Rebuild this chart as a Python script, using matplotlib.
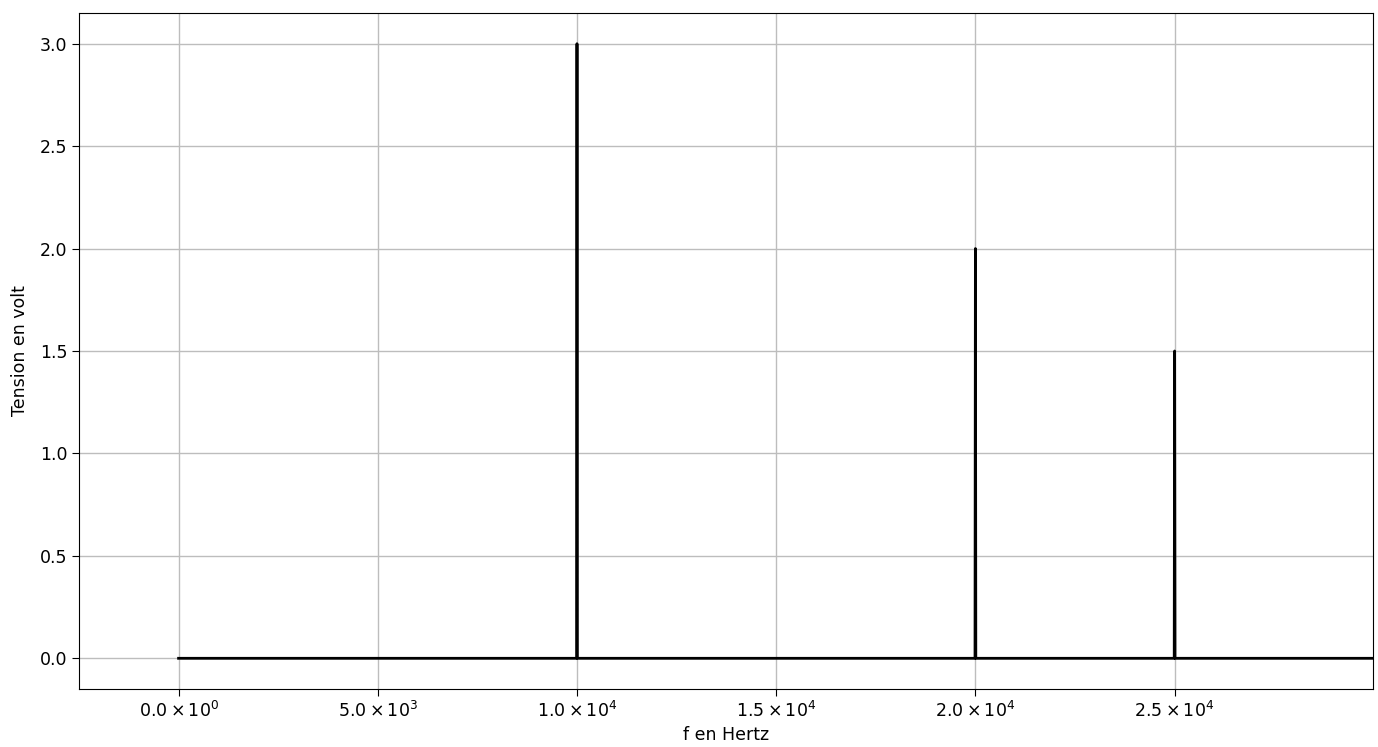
import matplotlib
matplotlib.use("Agg")
import matplotlib.pyplot as plt
from matplotlib.ticker import FuncFormatter
import numpy as np

# spectral lines (Hz, V)
freqs = [1.0e4, 2.0e4, 2.5e4]
amps = [3.0, 2.0, 1.5]
f_max = 3.0e4

# build the spectrum trace: flat at zero with a spike at each line
x = [0.0]
y = [0.0]
for f, a in zip(freqs, amps):
    x += [f - 10, f, f + 10]
    y += [0.0, a, 0.0]
x.append(f_max)
y.append(0.0)


def sci(v, pos):
    if v == 0:
        return r"$0.0\times10^{0}$"
    e = int(np.floor(np.log10(abs(v))))
    m = v / 10**e
    return r"$%.1f\times10^{%d}$" % (m, e)


fig = plt.figure(figsize=(13.78, 7.47), dpi=100)
ax = fig.add_axes([0.0573, 0.0776, 0.9391, 0.905])
ax.plot(x, y, color="black", linewidth=2)
ax.set_xlim(-2500, 29980)
ax.xaxis.set_major_formatter(FuncFormatter(sci))
ax.grid(True, color="#bdbdbd", linewidth=1.0)
ax.tick_params(labelsize=12.5, length=5)
ax.set_xlabel("f en Hertz", fontsize=12.5, labelpad=4)
ax.set_ylabel("Tension en volt", fontsize=12.5, labelpad=8)
fig.savefig("out.png", dpi=100)
